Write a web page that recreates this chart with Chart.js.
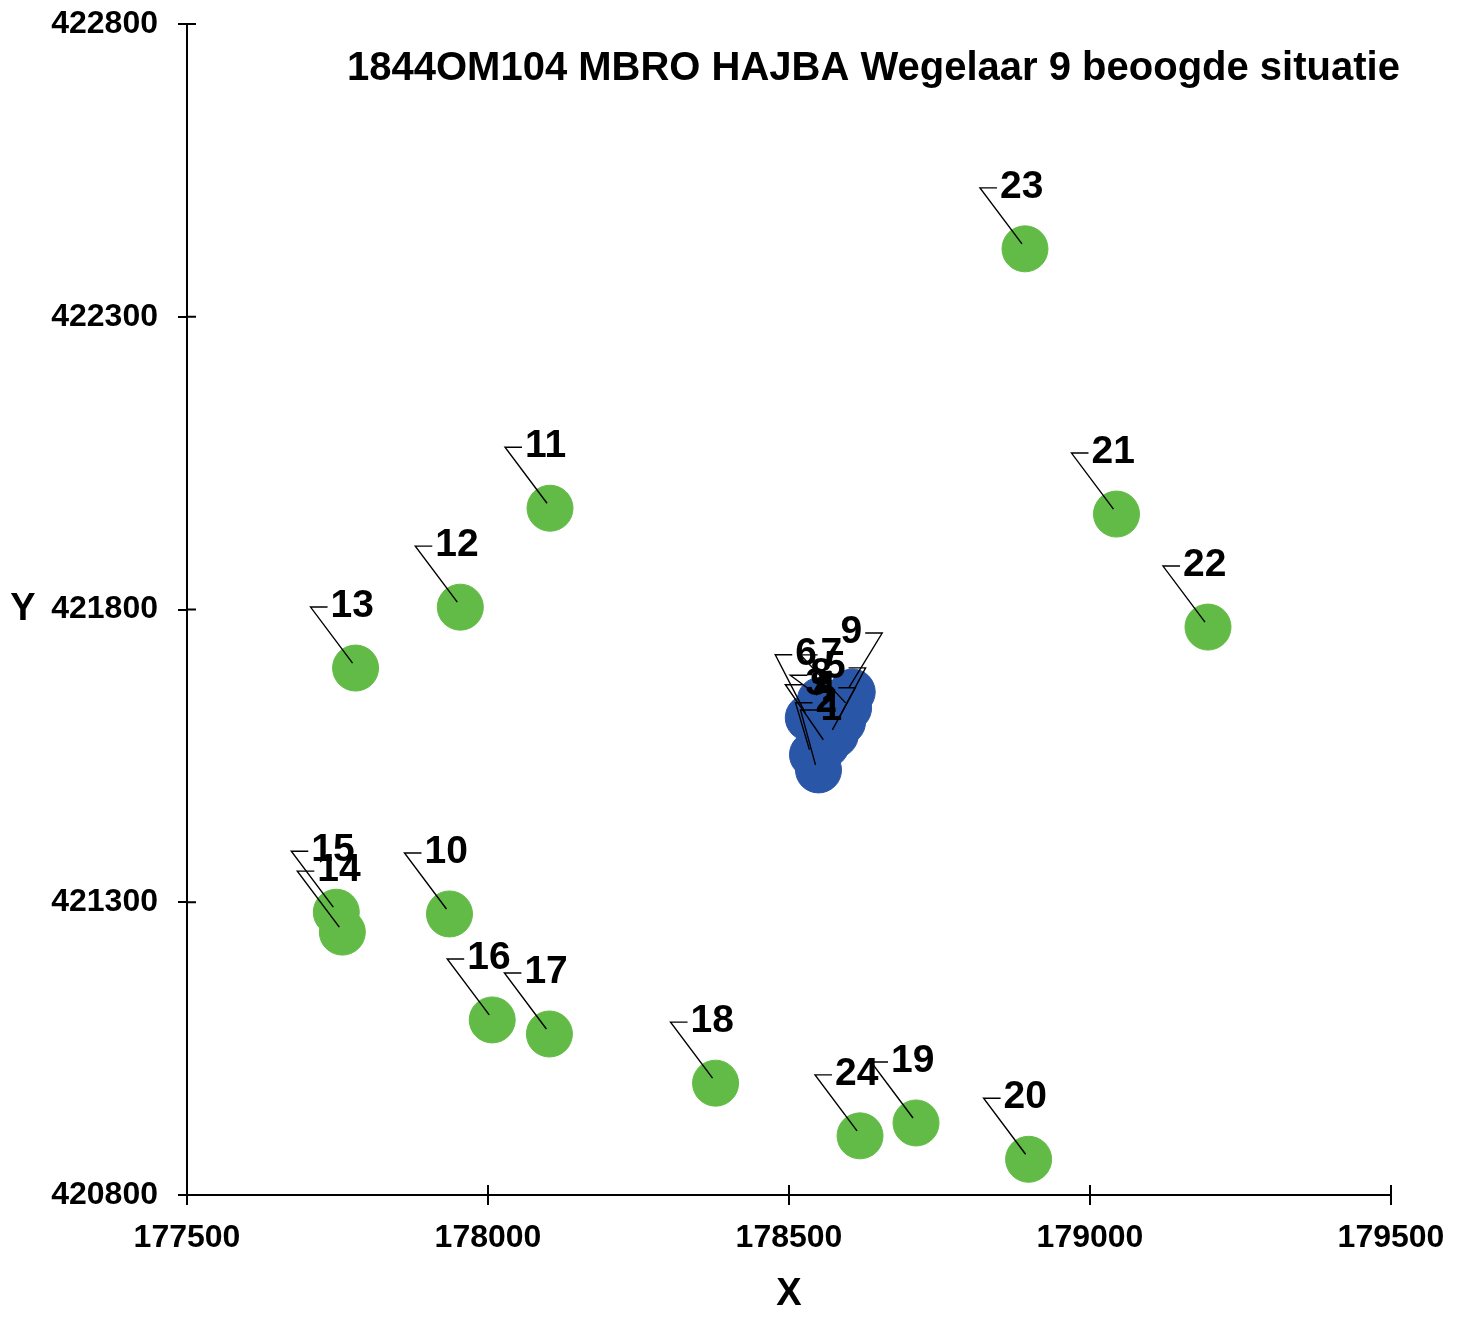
<!DOCTYPE html>
<html lang="nl">
  <head>
    <meta charset="UTF-8" />
    <script src="https://cdn.jsdelivr.net/npm/chart.js@4.4.1/dist/chart.umd.min.js"></script>
    <title>1844OM104 MBRO HAJBA Wegelaar 9 beoogde situatie</title>
    <style>
      body {
        margin: 0;
        padding: 0;
        background: #fff;
      }

      .container {
        width: 1469px;
        height: 1321px;
      }
    </style>
  </head>
  <body>
    <div class="container">
      <canvas id="chart"></canvas>
    </div>
    <script>
      const chartTitle = '1844OM104 MBRO HAJBA Wegelaar 9 beoogde situatie'
      const xTicks = [177500, 178000, 178500, 179000, 179500]
      const yTicks = [420800, 421300, 421800, 422300, 422800]

      // bronnen (blauw)
      const blueLabels = ['1', '2', '3', '4', '5', '6', '7', '8', '9']
      const blueX = [178549, 178539, 178562, 178577, 178589, 178532, 178599, 178552, 178605]
      const blueY = [421526, 421552, 421569, 421586, 421608, 421615, 421632, 421645, 421659]

      // toetspunten (groen)
      const greenLabels = ['10', '11', '12', '13', '14', '15', '16', '17', '18', '19', '20', '21', '22', '23', '24']
      const greenX = [177936, 178103, 177954, 177780, 177758, 177748, 178007, 178102, 178378, 178711, 178898, 179044, 179196, 178892, 178618]
      const greenY = [421280, 421973, 421804, 421700, 421249, 421283, 421099, 421075, 420991, 420923, 420861, 421963, 421770, 422416, 420901]

      const toPoints = (xs, ys) => xs.map((x, i) => ({ x: x, y: ys[i] }))

      const FONT = "'Liberation Sans', Arial, sans-serif"

      // where the leader of a label ends, relative to the point (px)
      const labelOffsets = {
        '1': { dx: -18, dy: -60, side: 'left' },
        '2': { dx: -17, dy: -52, side: 'left' },
        '3': { dx: -41, dy: -60, side: 'left' },
        '4': { dx: 20, dy: -47, side: 'right' },
        '5': { dx: 23, dy: -54, side: 'right' },
        '6': { dx: -33, dy: -63, side: 'left' },
        '7': { dx: -48, dy: -53, side: 'left' },
        '8': { dx: -30, dy: -25, side: 'left' },
        '9': { dx: 30, dy: -59, side: 'right' },
      }
      const defaultOffset = { dx: -45, dy: -61, side: 'left' }

      const labelPlugin = {
        id: 'labels',
        afterDatasetsDraw(chart) {
          const ctx = chart.ctx
          ctx.save()
          ctx.font = 'bold 39px ' + FONT
          ctx.textBaseline = 'middle'
          ctx.strokeStyle = '#000'
          ctx.fillStyle = '#000'
          ctx.lineWidth = 1.4
          chart.data.datasets.forEach((ds, di) => {
            const meta = chart.getDatasetMeta(di)
            meta.data.forEach((el, i) => {
              const text = ds.labels[i]
              const o = labelOffsets[text] || defaultOffset
              const ax = el.x + o.dx
              const ay = el.y + o.dy
              const dir = o.side === 'left' ? 1 : -1
              ctx.beginPath()
              ctx.moveTo(el.x - 3, el.y - 5)
              ctx.lineTo(ax, ay)
              ctx.lineTo(ax + dir * 17, ay)
              ctx.stroke()
              ctx.textAlign = o.side === 'left' ? 'left' : 'right'
              ctx.fillText(text, ax + dir * 20, ay - 1)
            })
          })
          ctx.restore()
        },
      }

      const framePlugin = {
        id: 'frame',
        afterDraw(chart) {
          const ctx = chart.ctx
          const xs = chart.scales.x
          const ys = chart.scales.y
          const area = chart.chartArea
          ctx.save()
          ctx.strokeStyle = '#000'
          ctx.lineWidth = 2
          // inner halves of the crossing tick marks
          ctx.beginPath()
          yTicks.forEach((v) => {
            const py = ys.getPixelForValue(v)
            ctx.moveTo(area.left, py)
            ctx.lineTo(area.left + 9, py)
          })
          xTicks.forEach((v) => {
            const px = xs.getPixelForValue(v)
            ctx.moveTo(px, area.bottom)
            ctx.lineTo(px, area.bottom - 10)
          })
          ctx.stroke()
          ctx.fillStyle = '#000'
          ctx.font = 'bold 40px ' + FONT
          ctx.textAlign = 'left'
          ctx.textBaseline = 'middle'
          ctx.fillText(chartTitle, 347, 69)
          ctx.font = 'bold 38px ' + FONT
          ctx.textAlign = 'center'
          ctx.fillText('Y', 23, ys.getPixelForValue(421800))
          ctx.restore()
        },
      }

      const tickFont = { family: FONT, size: 32, weight: 'bold' }

      new Chart(document.getElementById('chart'), {
        type: 'scatter',
        data: {
          datasets: [
            {
              label: 'bronnen',
              labels: blueLabels,
              data: toPoints(blueX, blueY),
              backgroundColor: '#2a56a8',
              borderColor: '#2a56a8',
              pointRadius: 23,
              pointHoverRadius: 23,
            },
            {
              label: 'toetspunten',
              labels: greenLabels,
              data: toPoints(greenX, greenY),
              backgroundColor: '#62bb46',
              borderColor: '#62bb46',
              pointRadius: 23,
              pointHoverRadius: 23,
            },
          ],
        },
        options: {
          responsive: true,
          maintainAspectRatio: false,
          animation: false,
          layout: {
            padding: { left: 0, top: 24, right: 78, bottom: 0 },
          },
          plugins: {
            legend: { display: false },
            title: { display: false },
            tooltip: { enabled: false },
          },
          scales: {
            x: {
              type: 'linear',
              min: 177500,
              max: 179500,
              afterBuildTicks: (scale) => {
                scale.ticks = xTicks.map((v) => ({ value: v }))
              },
              afterFit: (scale) => {
                scale.height = 126
                scale.paddingLeft = 0
                scale.paddingRight = 0
              },
              ticks: {
                color: '#000',
                font: tickFont,
                padding: 14,
                maxRotation: 0,
                callback: (v) => String(v),
              },
              grid: {
                drawOnChartArea: false,
                color: '#000',
                lineWidth: 2,
                tickLength: 10,
              },
              border: { color: '#000', width: 2 },
              title: {
                display: true,
                text: 'X',
                color: '#000',
                font: { family: FONT, size: 38, weight: 'bold' },
                padding: { top: 10 },
              },
            },
            y: {
              type: 'linear',
              min: 420800,
              max: 422800,
              afterBuildTicks: (scale) => {
                scale.ticks = yTicks.map((v) => ({ value: v }))
              },
              afterFit: (scale) => {
                scale.width = 187
                scale.paddingTop = 0
                scale.paddingBottom = 0
              },
              ticks: {
                color: '#000',
                font: tickFont,
                padding: 20,
                callback: (v) => String(v),
              },
              grid: {
                drawOnChartArea: false,
                color: '#000',
                lineWidth: 2,
                tickLength: 9,
              },
              border: { color: '#000', width: 2 },
            },
          },
        },
        plugins: [labelPlugin, framePlugin],
      })
    </script>
  </body>
</html>
